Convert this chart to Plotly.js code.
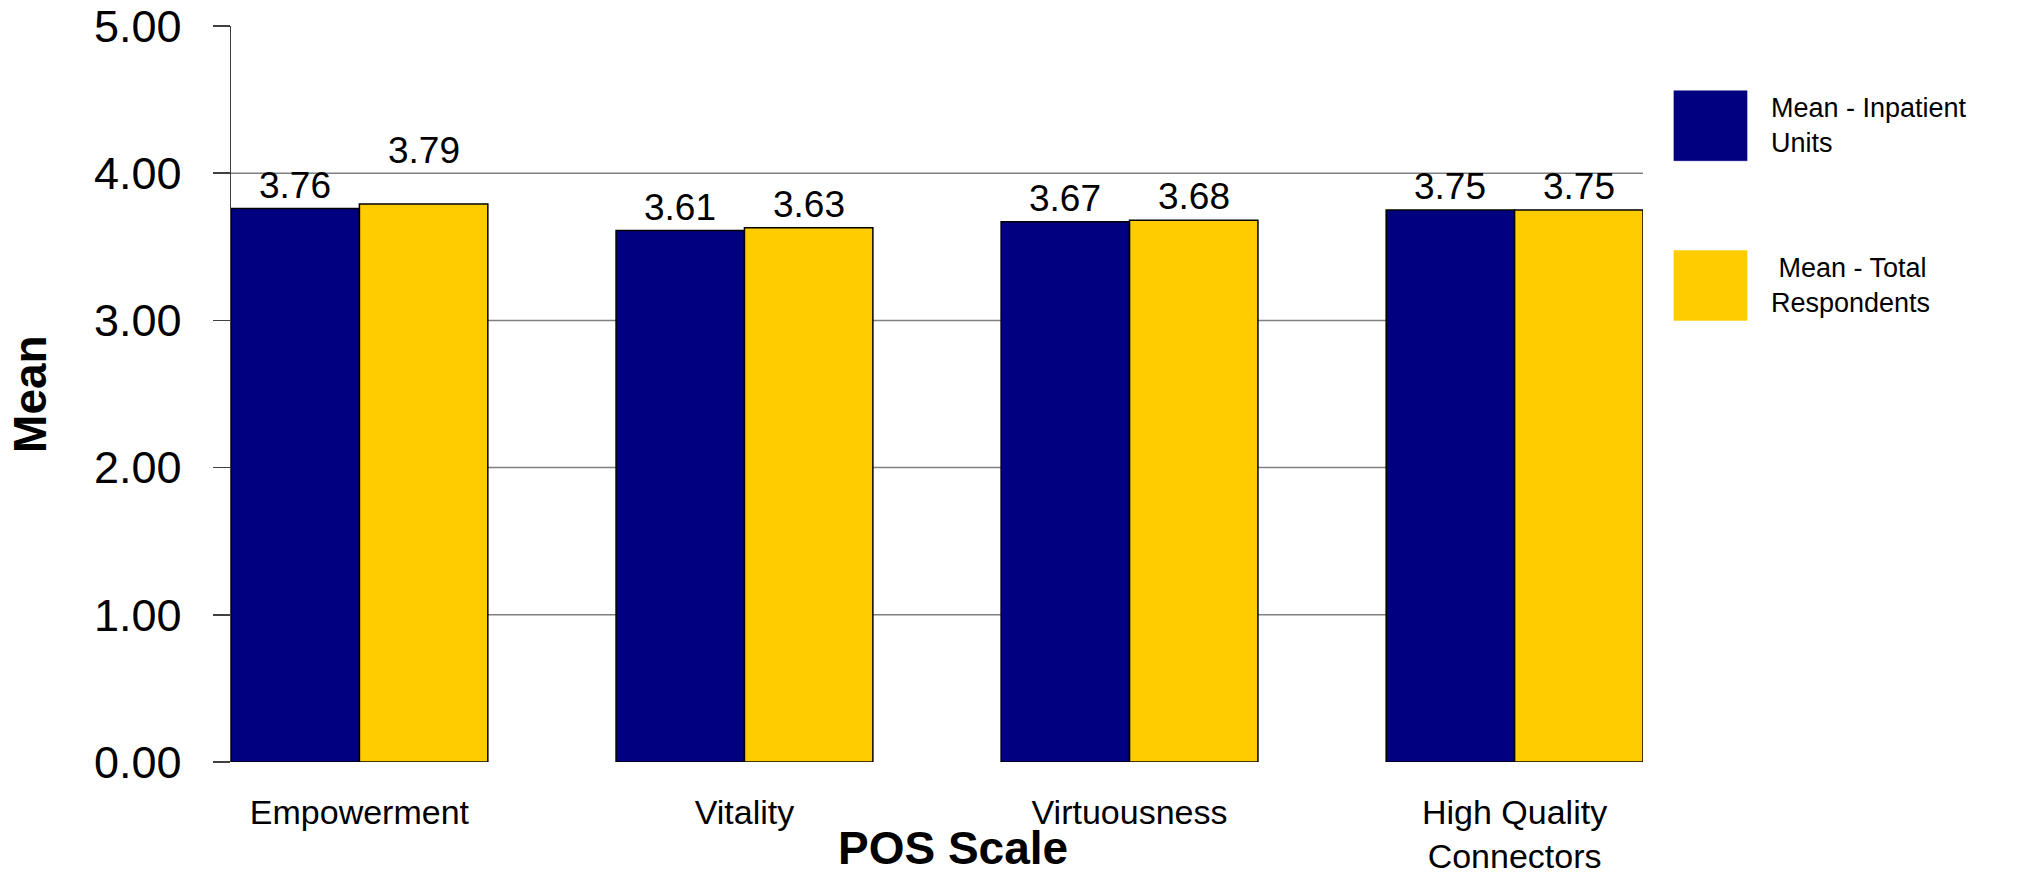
<!DOCTYPE html>
<html>
<head>
<meta charset="utf-8">
<script src="https://cdn.plot.ly/plotly-3.0.1.min.js"></script>
<style>
  html, body { margin: 0; padding: 0; background: #ffffff; }
  #chart { width: 2025px; height: 877px; }
</style>
</head>
<body>
<div id="chart"></div>
<script>
// ---- data ----
var categories = ["Empowerment", "Vitality", "Virtuousness", "High Quality<br>Connectors"];
var seriesNames = ["Mean - Inpatient Units", "Mean - Total Respondents"];
var legendLabels = ["Mean - Inpatient<br>Units", "\u00a0Mean - Total<br>Respondents"];
var inpatientMeans = [3.76, 3.61, 3.67, 3.75];
var totalMeans = [3.79, 3.63, 3.68, 3.75];
var yTickVals = [0, 1, 2, 3, 4, 5];
var gridVals = [1, 2, 3, 4];
var xTitle = "POS Scale";
var yTitle = "Mean";

// ---- style ----
var colors = ["#000080", "#FFCC00"];
var fontFamily = "Liberation Sans, Arial, Helvetica, sans-serif";
var bargap = 0.333;
// extra vertical lift (px) of each value label, per series
var labelLift = [[0, 0, 0, 0], [30, 0, 0, 0]];

var xIdx = categories.map(function (c, i) { return i; });
var allSeries = [inpatientMeans, totalMeans];

var traces = allSeries.map(function (vals, k) {
  return {
    type: "bar",
    name: seriesNames[k],
    x: xIdx,
    y: vals,
    marker: { color: colors[k], line: { color: "#000000", width: 1.5 } },
    hoverinfo: "x+y"
  };
});

var shapes = gridVals.map(function (g) {
  return {
    type: "line", xref: "paper", yref: "y", x0: 0, x1: 1, y0: g, y1: g,
    line: { color: "#808080", width: 1.5 }, layer: "below"
  };
});

var annotations = [];

// value labels above each bar (bar centre derived from bargap and series count)
var barW = (1 - bargap) / allSeries.length;
allSeries.forEach(function (vals, k) {
  var off = -(1 - bargap) / 2 + barW * (k + 0.5);
  vals.forEach(function (v, i) {
    annotations.push({
      xref: "x", yref: "y", x: xIdx[i] + off, y: v,
      xanchor: "center", yanchor: "bottom", yshift: 1 + labelLift[k][i],
      showarrow: false, text: v.toFixed(2),
      font: { family: fontFamily, size: 37, color: "#000000" }
    });
  });
});

// legend boxes (drawn as shapes in paper coordinates)
var legendBoxes = [[0.912, 0.817], [0.695, 0.600]];
legendBoxes.forEach(function (b, k) {
  shapes.push({
    type: "rect", xref: "paper", yref: "paper",
    x0: 1.0219, x1: 1.0737, y0: b[1], y1: b[0],
    fillcolor: colors[k], line: { color: colors[k], width: 0.5 }
  });
  annotations.push({
    xref: "paper", yref: "paper", x: 1.0895, y: (b[0] + b[1]) / 2,
    xanchor: "left", yanchor: "middle", align: "left", showarrow: false,
    text: legendLabels[k],
    font: { family: fontFamily, size: 27, color: "#000000" }
  });
});

annotations.push({
  xref: "paper", yref: "paper", x: 0.511, y: -0.117,
  xanchor: "center", yanchor: "middle", showarrow: false,
  text: "<b>" + xTitle + "</b>",
  font: { family: fontFamily, size: 46, color: "#000000" }
});
annotations.push({
  xref: "paper", yref: "paper", x: -0.1424, y: 0.5,
  xanchor: "center", yanchor: "middle", showarrow: false, textangle: -90,
  text: "<b>" + yTitle + "</b>",
  font: { family: fontFamily, size: 46, color: "#000000" }
});

var layout = {
  width: 2025,
  height: 877,
  margin: { l: 231, r: 382, t: 26, b: 115, pad: 0 },
  paper_bgcolor: "#ffffff",
  plot_bgcolor: "#ffffff",
  showlegend: false,
  barmode: "group",
  bargap: bargap,
  bargroupgap: 0,
  font: { family: fontFamily, color: "#000000" },
  xaxis: {
    range: [-0.3335, 3.3335],
    tickmode: "array",
    tickvals: xIdx,
    ticktext: categories,
    ticks: "",
    showgrid: false,
    zeroline: false,
    showline: false,
    ticklabelstandoff: 27,
    tickfont: { family: fontFamily, size: 34, color: "#000000" },
    fixedrange: true
  },
  yaxis: {
    range: [0, 5],
    tickmode: "array",
    tickvals: yTickVals,
    tickformat: ".2f",
    ticks: "outside",
    ticklen: 17,
    tickwidth: 1.5,
    tickcolor: "#404040",
    showline: true,
    linecolor: "#404040",
    linewidth: 1.5,
    showgrid: false,
    zeroline: false,
    ticklabelstandoff: 22,
    ticklabeloverflow: "allow",
    tickfont: { family: fontFamily, size: 45, color: "#000000" },
    fixedrange: true
  },
  shapes: shapes,
  annotations: annotations
};

Plotly.newPlot("chart", traces, layout, { displayModeBar: false, staticPlot: true });
</script>
</body>
</html>
